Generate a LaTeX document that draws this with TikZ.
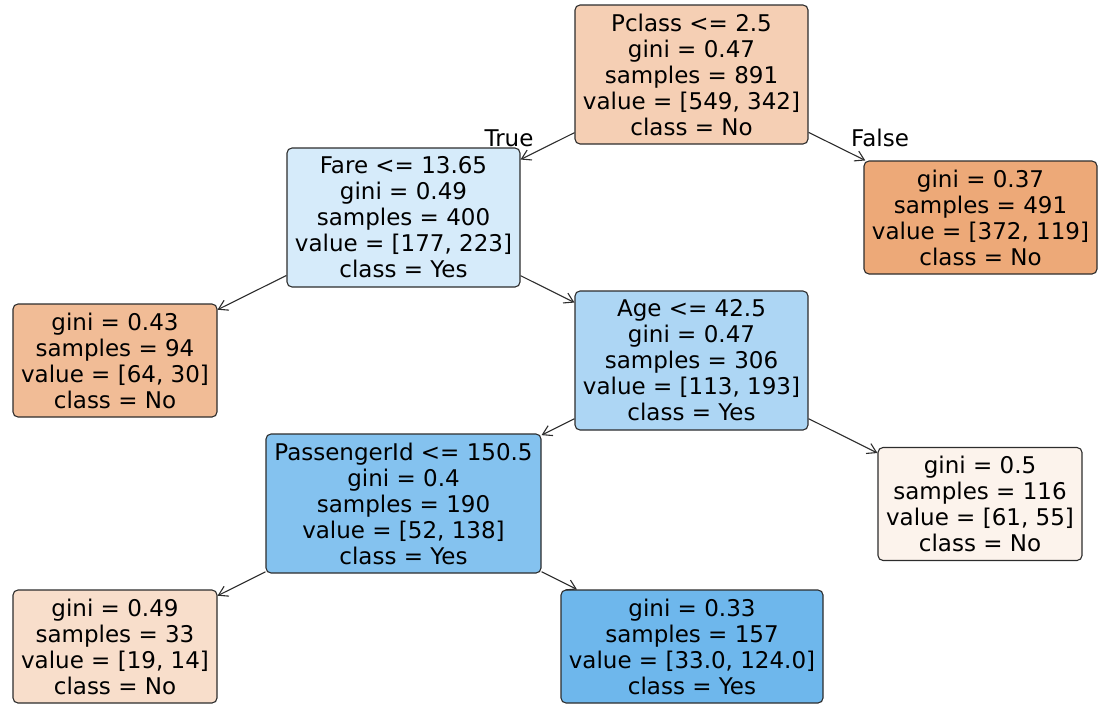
\documentclass[tikz,border=0pt]{standalone}
\usepackage{fontspec}
\setmainfont{DejaVu Sans}
\usetikzlibrary{arrows.meta}
\definecolor{cRoot}{RGB}{245,207,180}
\definecolor{cFare}{RGB}{214,235,250}
\definecolor{cRA}{RGB}{237,169,120}
\definecolor{cLA}{RGB}{241,188,150}
\definecolor{cAge}{RGB}{173,214,244}
\definecolor{cPid}{RGB}{132,194,239}
\definecolor{cHalf}{RGB}{252,243,236}
\definecolor{cLB}{RGB}{248,222,203}
\definecolor{cRB}{RGB}{110,183,236}
\definecolor{edgec}{RGB}{45,45,45}
\tikzset{
  treenode/.style={draw=edgec, line width=1.1pt, rounded corners=5pt, align=center,
    inner sep=0pt, font=\fontsize{23}{26}\selectfont},
  five/.style={minimum height=139pt},
  four/.style={minimum height=113pt},
  link/.style={draw=edgec, line width=1.1pt, -{Straight Barb[length=9pt,width=11pt,line width=1.1pt]}},
  edgelabel/.style={font=\fontsize{23}{26}\selectfont, inner sep=0pt}
}
\begin{document}
\begin{tikzpicture}[x=1pt,y=-1pt]
\useasboundingbox (0,0) rectangle (1099,704);
\node[treenode,five,fill=cRoot,minimum width=233pt] (root) at (691.5,74.5)
  {Pclass <= 2.5\\gini = 0.47\\samples = 891\\value = [549, 342]\\class = No};
\node[treenode,five,fill=cFare,minimum width=233pt] (fare) at (403.5,217.5)
  {Fare <= 13.65\\gini = 0.49\\samples = 400\\value = [177, 223]\\class = Yes};
\node[treenode,four,fill=cRA,minimum width=233pt] (ra) at (980.5,217.5)
  {gini = 0.37\\samples = 491\\value = [372, 119]\\class = No};
\node[treenode,four,fill=cLA,minimum width=204pt] (la) at (115,360.5)
  {gini = 0.43\\samples = 94\\value = [64, 30]\\class = No};
\node[treenode,five,fill=cAge,minimum width=233pt] (age) at (691.5,360.5)
  {Age <= 42.5\\gini = 0.47\\samples = 306\\value = [113, 193]\\class = Yes};
\node[treenode,five,fill=cPid,minimum width=275pt] (pid) at (403.5,503.5)
  {PassengerId <= 150.5\\gini = 0.4\\samples = 190\\value = [52, 138]\\class = Yes};
\node[treenode,four,fill=cHalf,minimum width=204pt] (half) at (980,504)
  {gini = 0.5\\samples = 116\\value = [61, 55]\\class = No};
\node[treenode,four,fill=cLB,minimum width=204pt] (lb) at (115,646.5)
  {gini = 0.49\\samples = 33\\value = [19, 14]\\class = No};
\node[treenode,four,fill=cRB,minimum width=262pt] (rb) at (692,646.5)
  {gini = 0.33\\samples = 157\\value = [33.0, 124.0]\\class = Yes};
\draw[link] (root) -- (fare);
\draw[link] (root) -- (ra);
\draw[link] (fare) -- (la);
\draw[link] (fare) -- (age);
\draw[link] (age) -- (pid);
\draw[link] (age) -- (half);
\draw[link] (pid) -- (lb);
\draw[link] (pid) -- (rb);
\node[edgelabel] (tl) at (509,138) {True};
\node[edgelabel] (fl) at (880,138) {False};
\end{tikzpicture}
\end{document}
